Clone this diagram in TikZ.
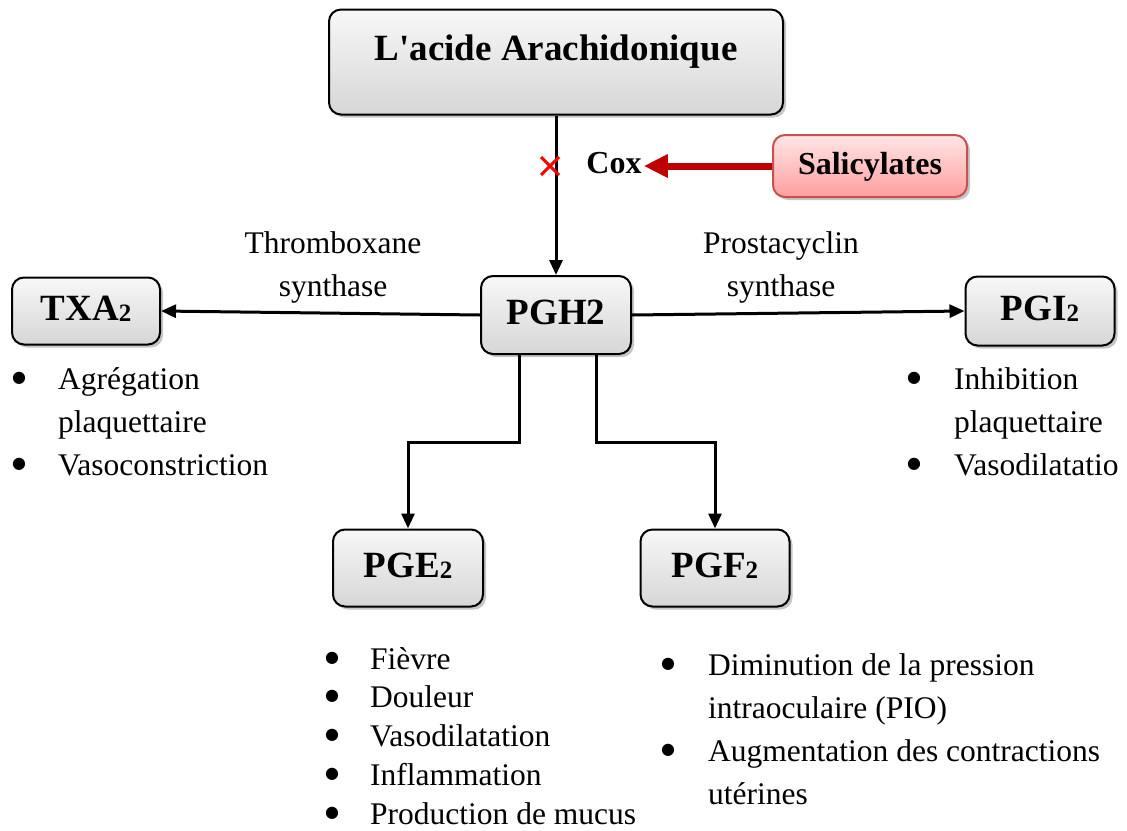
\documentclass[tikz,border=0pt]{standalone}
\usepackage{fontspec}
\setmainfont{Liberation Serif}
\newfontfamily\symboles{DejaVu Sans}
\usepackage{graphicx}
\usetikzlibrary{arrows.meta,shadows}

\definecolor{rougefleche}{RGB}{192,0,0}
\definecolor{rosebord}{RGB}{200,80,80}
\definecolor{rosehaut}{RGB}{255,230,230}
\definecolor{rosebas}{RGB}{255,158,158}

\newcommand{\indice}[1]{\raisebox{-0.05em}{\fontsize{25}{25}\selectfont #1}}
\newcommand{\puce}{\raisebox{7pt}{\symboles\fontsize{16}{16}\selectfont ●}}

\tikzset{
  boite/.style={draw=black, line width=2pt, rounded corners=12pt,
    top color=gray!6, bottom color=gray!32,
    drop shadow={shadow xshift=3pt, shadow yshift=-3pt, opacity=0.45},
    font=\bfseries\fontsize{37}{44}\selectfont,
    text height=27pt, text depth=9pt, inner sep=0pt},
  boiterose/.style={boite, draw=rosebord, top color=rosehaut, bottom color=rosebas,
    font=\bfseries\fontsize{32}{38}\selectfont, text height=23pt, text depth=7pt},
  lien/.style={line width=3pt, -{Triangle[length=15pt,width=13pt]}},
  enzyme/.style={font=\fontsize{31.5}{43}\selectfont, align=center},
  puces/.style={anchor=base west, inner sep=0pt, font=\fontsize{31.5}{43}\selectfont},
}

\begin{document}
\begin{tikzpicture}[x=1pt,y=-1pt]
	\useasboundingbox (0,0) rectangle (1127,830);

	\node[boite, minimum width=454pt, minimum height=105pt, text depth=31pt] (acide) at (556,62) {L\textquotesingle acide Arachidonique};
	\node[boite, minimum width=150pt, minimum height=78pt] (pgh) at (556,315) {PGH2};
	\node[boite, minimum width=148pt, minimum height=67pt] (txa) at (86,311) {TXA\indice{2}};
	\node[boite, minimum width=149pt, minimum height=69pt] (pgi) at (1040,311) {PGI\indice{2}};
	\node[boite, minimum width=150pt, minimum height=77pt] (pge) at (408,568) {PGE\indice{2}};
	\node[boite, minimum width=149pt, minimum height=77pt] (pgf) at (715,568) {PGF\indice{2}};
	\node[boiterose, minimum width=194pt, minimum height=62pt] (sal) at (870,166) {Salicylates};
	\node[font=\bfseries\fontsize{32}{38}\selectfont, inner sep=2pt] (cox) at (614,163) {Cox};

	\draw[lien] (acide.south) -- (pgh.north);
	\draw[lien] (pgh.west) -- (txa.east);
	\draw[lien] (pgh.east) -- (pgi.west);
	\draw[lien] ([xshift=-37pt]pgh.south) -- ++(0,87) -| (pge.north);
	\draw[lien] ([xshift=40pt]pgh.south) -- ++(0,87) -| (pgf.north);
	\draw[rougefleche, line width=7pt, -{Triangle[length=24pt,width=22pt]}] (sal.west) -- (sal.west -| cox.east);

	% blocage de la cox
	\coordinate (bloc) at (550,166);
	\draw[red, line width=3pt] ([shift={(-9,-9)}]bloc) -- ([shift={(9,9)}]bloc);
	\draw[red, line width=3pt] ([shift={(-9,9)}]bloc) -- ([shift={(9,-9)}]bloc);

	\node[enzyme] (thx) at (333,267) {Thromboxane\\synthase};
	\node[enzyme] (prc) at (781,267) {Prostacyclin\\synthase};

	\node[puces] (efftxa) at (12,389) {\begin{tabular}[t]{@{}p{46pt}@{}l@{}}
		\puce & Agrégation\\ & plaquettaire\\ \puce & Vasoconstriction\end{tabular}};
	\node[puces] (effpgi) at (907,389) {\begin{tabular}[t]{@{}p{47pt}@{}l@{}}
		\puce & Inhibition\\ & plaquettaire\\ \puce & Vasodilatatio\end{tabular}};
	\node[puces, font=\fontsize{31.5}{38.75}\selectfont] (effpge) at (325,669) {\begin{tabular}[t]{@{}p{45pt}@{}l@{}}
		\puce & Fièvre\\ \puce & Douleur\\ \puce & Vasodilatation\\
		\puce & Inflammation\\ \puce & Production de mucus\end{tabular}};
	\node[puces] (effpgf) at (661,675) {\begin{tabular}[t]{@{}p{47pt}@{}l@{}}
		\puce & Diminution de la pression\\ & intraoculaire (PIO)\\
		\puce & Augmentation des contractions\\ & utérines\end{tabular}};
\end{tikzpicture}
\end{document}
